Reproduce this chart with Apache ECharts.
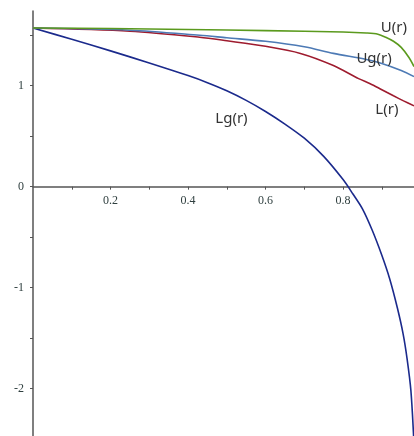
<!DOCTYPE html>
<html>
<head>
<meta charset="utf-8">
<script src="https://cdn.jsdelivr.net/npm/echarts@6/dist/echarts.min.js"></script>
<style>
html, body { margin: 0; padding: 0; background: #fff; }
#main { width: 414px; height: 436px; }
</style>
</head>
<body>
<div id="main"></div>
<script>
// 曲线数据 (r, value)
const uR = [0, 0.2, 0.4, 0.6, 0.8, 0.86, 0.89, 0.91, 0.93, 0.95, 0.97, 0.983];
const uV = [1.571, 1.566, 1.556, 1.546, 1.532, 1.522, 1.51, 1.48, 1.44, 1.38, 1.28, 1.19];

const ugR = [0, 0.25, 0.43, 0.5, 0.6, 0.7, 0.775, 0.86, 0.9, 0.95, 0.983];
const ugV = [1.571, 1.55, 1.5, 1.475, 1.44, 1.385, 1.32, 1.26, 1.22, 1.15, 1.09];

const lR = [0, 0.25, 0.43, 0.5, 0.6, 0.69, 0.775, 0.84, 0.87, 0.9, 0.93, 0.956, 0.983];
const lV = [1.571, 1.54, 1.48, 1.445, 1.39, 1.32, 1.2, 1.07, 1.02, 0.96, 0.9, 0.85, 0.8];

const lgR = [0, 0.1, 0.2, 0.3, 0.4, 0.45, 0.5, 0.55, 0.6, 0.65, 0.7, 0.75, 0.8, 0.825, 0.85, 0.875, 0.9, 0.92, 0.94, 0.955, 0.965, 0.975, 0.983];
const lgV = [1.571, 1.46, 1.345, 1.225, 1.1, 1.03, 0.95, 0.855, 0.745, 0.62, 0.48, 0.3, 0.07, -0.07, -0.22, -0.43, -0.68, -0.91, -1.2, -1.46, -1.7, -2.02, -2.55];

// 刻度
const xLabels = [0.2, 0.4, 0.6, 0.8];
const xTicks = [0.1, 0.2, 0.3, 0.4, 0.5, 0.6, 0.7, 0.8, 0.9];
const yLabels = [-2, -1, 0, 1];
const yTicks = [-2, -1.5, -1, -0.5, 0, 0.5, 1, 1.5];

// 曲线名称及标注位置(数据坐标)
const names = ['U(r)', 'Ug(r)', 'L(r)', 'Lg(r)'];
const labelAt = [[0.931, 1.574], [0.88, 1.267], [0.913, 0.762], [0.512, 0.673]];

const colors = ['#5b9a1e', '#4d7ab5', '#9e1b2e', '#1b2a8c'];

const zip = (a, b) => a.map((v, i) => [v, b[i]]);
const seriesData = [zip(uR, uV), zip(ugR, ugV), zip(lR, lV), zip(lgR, lgV)];

const yMin = -2.47, yMax = 1.74;
const gridTop = 11, gridBottom = 0, H = 436;
// x轴放在 y=0 处 (从底部往上的偏移)
const zeroOffset = (H - gridTop - gridBottom) * (0 - yMin) / (yMax - yMin);

const chart = echarts.init(document.getElementById('main'));

const axisFont = { fontFamily: 'Liberation Serif', fontSize: 12, color: '#2f3f3f' };

chart.setOption({
	animation: false,
	grid: { left: 33, right: 0, top: gridTop, bottom: gridBottom, outerBoundsMode: 'none' },
	xAxis: {
		type: 'value',
		min: 0,
		max: 0.983,
		offset: -zeroOffset,
		axisLine: { onZero: false, lineStyle: { color: '#555', width: 1.5 } },
		axisTick: { customValues: xTicks, length: 3, lineStyle: { color: '#555' } },
		axisLabel: { customValues: xLabels, margin: 8, ...axisFont },
		splitLine: { show: false }
	},
	yAxis: {
		type: 'value',
		min: yMin,
		max: yMax,
		axisLine: { show: true, onZero: false, lineStyle: { color: '#555', width: 1.5 } },
		axisTick: { show: true, customValues: yTicks, length: 3, lineStyle: { color: '#555' } },
		axisLabel: { customValues: yLabels, margin: 9, ...axisFont },
		splitLine: { show: false }
	},
	series: seriesData.map((d, i) => ({
		name: names[i],
		type: 'line',
		data: d,
		smooth: 0.3,
		showSymbol: false,
		lineStyle: { color: colors[i], width: 1.6 },
		z: 2 + (3 - i)
	}))
});

// 曲线文字标注
chart.setOption({
	graphic: labelAt.map((p, i) => {
		const pt = chart.convertToPixel({ gridIndex: 0 }, p);
		return {
			type: 'text',
			x: pt[0],
			y: pt[1],
			style: {
				text: names[i],
				fontFamily: 'Noto Sans',
				fontSize: 15,
				fill: '#333',
				align: 'center',
				verticalAlign: 'middle'
			},
			z: 10
		};
	})
});
</script>
</body>
</html>
